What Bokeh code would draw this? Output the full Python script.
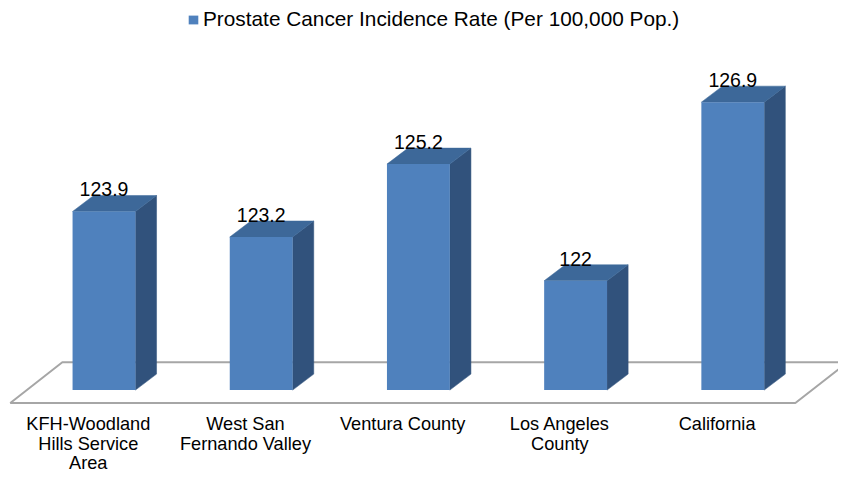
from bokeh.plotting import figure
from bokeh.models import Range1d, Legend, LegendItem, ColumnDataSource
from bokeh.core.properties import value
from bokeh.embed import file_html
from bokeh.resources import INLINE

# ---- data ----
categories = ["KFH-Woodland\nHills Service\nArea", "West San\nFernando Valley", "Ventura County",
              "Los Angeles\nCounty", "California"]
rates = [123.9, 123.2, 125.2, 122.0, 126.9]
rate_labels = ["123.9", "123.2", "125.2", "122", "126.9"]
series_name = "Prostate Cancer Incidence Rate (Per 100,000 Pop.)"
axis_min = 119.0

# ---- layout constants ----
W, H = 838, 476
px_per_x = 157.2
px_per_y = 36.45
x0_px = 103.5          # pixel of first category centre
base_px_from_bottom = 86.4
x_start = -x0_px / px_per_x
x_end = (W - x0_px) / px_per_x
y_start = axis_min - base_px_from_bottom / px_per_y
y_end = y_start + H / px_per_y

bar_w = 0.4
ddx = 21.1 / px_per_x     # 3D depth offset
ddy = 16.0 / px_per_y

FRONT = "#4F81BD"
TOP = "#3D6899"
SIDE = "#31527C"

p = figure(width=W, height=H, output_backend="svg", toolbar_location=None,
           x_range=Range1d(x_start, x_end), y_range=Range1d(y_start, y_end),
           min_border=0, outline_line_color=None)
p.axis.visible = False
p.grid.visible = False
p.background_fill_color = "white"
p.border_fill_color = "white"

idx = list(range(len(rates)))

# floor (3D base plane)
f_left = -0.596
f_right = len(rates) - 1 + 0.398
f_front = axis_min - 13.3 / 37.67
f_back = axis_min + 28.7 / 37.67
f_shift = 53.0 / 160.2
p.patch([f_left, f_left + f_shift, f_right + f_shift, f_right],
        [f_front, f_back, f_back, f_front],
        fill_color=None, line_color="#A6A6A6", line_width=2)

# side faces
side_xs = [[i + bar_w / 2, i + bar_w / 2 + ddx, i + bar_w / 2 + ddx, i + bar_w / 2] for i in idx]
side_ys = [[axis_min, axis_min + ddy, v + ddy, v] for v in rates]
p.patches(side_xs, side_ys, fill_color=SIDE, line_color=SIDE, line_width=0.5)

# top faces
top_xs = [[i - bar_w / 2, i + bar_w / 2, i + bar_w / 2 + ddx, i - bar_w / 2 + ddx] for i in idx]
top_ys = [[v, v, v + ddy, v + ddy] for v in rates]
p.patches(top_xs, top_ys, fill_color=TOP, line_color=TOP, line_width=0.5)

# front faces
src = ColumnDataSource(dict(x=idx, top=rates, lab=rate_labels,
                            ly=[v + 22 / px_per_y for v in rates],
                            cx=[i - 0.1 for i in idx],
                            cat=categories,
                            cy=[y_start + (H - 413.5) / px_per_y] * len(rates)))
front = p.vbar(x="x", width=bar_w, bottom=axis_min, top="top", source=src,
               fill_color=FRONT, line_color=None)

# value labels
p.text(x="x", y="ly", text="lab", source=src, text_align="center",
       text_baseline="alphabetic", text_font=value("Liberation Sans"),
       text_font_size="19.5px", text_color="black")

# category labels
p.text(x="cx", y="cy", text="cat", source=src, text_align="center",
       text_baseline="top", text_font=value("Liberation Sans"),
       text_font_size="18.2px", text_color="black", text_line_height=0.975)

legend = Legend(items=[LegendItem(label=series_name, renderers=[front])],
                location=(187, 445), orientation="horizontal",
                border_line_color=None, background_fill_alpha=0,
                padding=0, margin=0, spacing=0,
                glyph_width=12, glyph_height=11, label_standoff=4,
                label_height=12, label_text_font="Liberation Sans",
                label_text_font_size="20.8px", label_text_color="black")
p.add_layout(legend)

open("out.html", "w").write(file_html(p, INLINE))
